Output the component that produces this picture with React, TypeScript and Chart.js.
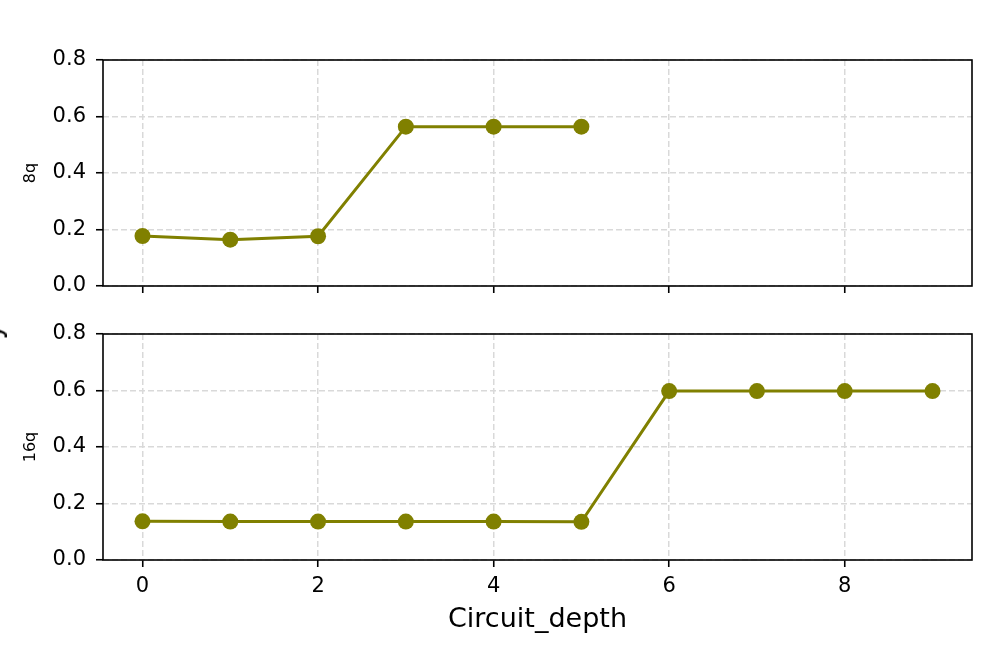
import React, { useEffect, useRef } from "react";
import { Chart, registerables } from "chart.js";

Chart.register(...registerables);

const depths8 = [0, 1, 2, 3, 4, 5];
const values8 = [0.177, 0.164, 0.176, 0.564, 0.564, 0.564];
const depths16 = [0, 1, 2, 3, 4, 5, 6, 7, 8, 9];
const values16 = [0.137, 0.136, 0.136, 0.136, 0.136, 0.135, 0.598, 0.598, 0.598, 0.598];
const xTicks = [0, 2, 4, 6, 8];
const yTicks = [0, 0.2, 0.4, 0.6, 0.8];
const labelTop = "8q";
const labelBottom = "16q";
const xLabel = "Circuit_depth";

const OLIVE = "#808000";
const FONT = "'DejaVu Sans', sans-serif";

const framePlugin = {
  id: "frame",
  afterDatasetsDraw(chart: any) {
    const { ctx, chartArea } = chart;
    ctx.save();
    ctx.strokeStyle = "#000";
    ctx.lineWidth = 1.6;
    ctx.setLineDash([]);
    ctx.strokeRect(chartArea.left, chartArea.top, chartArea.right - chartArea.left, chartArea.bottom - chartArea.top);
    ctx.restore();
  },
};

function makeConfig(xs: number[], ys: number[], yLabel: string, opts: { padTop: number; xHeight: number; showX: boolean }) {
  return {
    type: "line" as const,
    data: {
      datasets: [
        {
          data: xs.map((x, i) => ({ x, y: ys[i] })),
          borderColor: OLIVE,
          backgroundColor: OLIVE,
          borderWidth: 3,
          pointRadius: 8,
          pointBorderWidth: 0,
          pointBackgroundColor: OLIVE,
          tension: 0,
          fill: false,
        },
      ],
    },
    options: {
      responsive: false,
      animation: false as const,
      devicePixelRatio: 1,
      layout: { padding: { top: opts.padTop, right: 25, left: 0, bottom: 0 } },
      plugins: { legend: { display: false }, tooltip: { enabled: false } },
      scales: {
        x: {
          type: "linear" as const,
          min: -0.45,
          max: 9.45,
          afterBuildTicks: (s: any) => {
            s.ticks = xTicks.map((v) => ({ value: v }));
          },
          afterFit: (s: any) => {
            s.height = opts.xHeight;
          },
          ticks: {
            callback: (v: any) => (opts.showX ? String(v) : ""),
            font: { family: FONT, size: 21 },
            color: "#000",
            padding: 7,
            maxRotation: 0,
            autoSkip: false,
          },
          grid: {
            color: "#d9d9d9",
            lineWidth: 1.5,
            tickColor: "#000",
            tickLength: 7,
            tickWidth: 1.6,
            tickBorderDash: [],
          },
          border: { display: false, dash: [6, 3] },
          title: {
            display: opts.showX,
            text: xLabel,
            font: { family: FONT, size: 27 },
            color: "#000",
            padding: { top: 0, bottom: 28 },
          },
        },
        y: {
          type: "linear" as const,
          min: 0,
          max: 0.8,
          afterBuildTicks: (s: any) => {
            s.ticks = yTicks.map((v) => ({ value: v }));
          },
          afterFit: (s: any) => {
            s.width = 103;
          },
          ticks: {
            callback: (v: any) => Number(v).toFixed(1),
            font: { family: FONT, size: 21 },
            color: "#000",
            padding: 10,
          },
          grid: {
            color: "#d9d9d9",
            lineWidth: 1.5,
            tickColor: "#000",
            tickLength: 7,
            tickWidth: 1.6,
            tickBorderDash: [],
          },
          border: { display: false, dash: [6, 3] },
          title: {
            display: true,
            text: yLabel,
            font: { family: FONT, size: 16 },
            color: "#000",
            padding: { top: 21, bottom: 0 },
          },
        },
      },
    },
    plugins: [framePlugin],
  };
}

export default function App() {
  const topRef = useRef<HTMLCanvasElement>(null);
  const botRef = useRef<HTMLCanvasElement>(null);

  useEffect(() => {
    const c1 = new Chart(topRef.current as HTMLCanvasElement, makeConfig(depths8, values8, labelTop, { padTop: 60, xHeight: 34, showX: false }) as any);
    const c2 = new Chart(botRef.current as HTMLCanvasElement, makeConfig(depths16, values16, labelBottom, { padTop: 34, xHeight: 104, showX: true }) as any);
    return () => {
      c1.destroy();
      c2.destroy();
    };
  }, []);

  return (
    <div style={{ position: "absolute", left: 0, top: 0, width: 997, height: 664, background: "#fff", overflow: "hidden" }}>
      <canvas ref={topRef} width={997} height={320} style={{ position: "absolute", left: 0, top: 0, width: 997, height: 320 }} />
      <canvas ref={botRef} width={997} height={364} style={{ position: "absolute", left: 0, top: 300, width: 997, height: 364 }} />
      <span
        style={{
          position: "absolute",
          left: -17,
          top: 318,
          width: 16,
          height: 27,
          lineHeight: "27px",
          fontFamily: FONT,
          fontSize: 27,
          color: "#000",
          textAlign: "center",
          transform: "rotate(-90deg)",
          transformOrigin: "50% 50%",
          whiteSpace: "nowrap",
        }}
      >
        y
      </span>
    </div>
  );
}
